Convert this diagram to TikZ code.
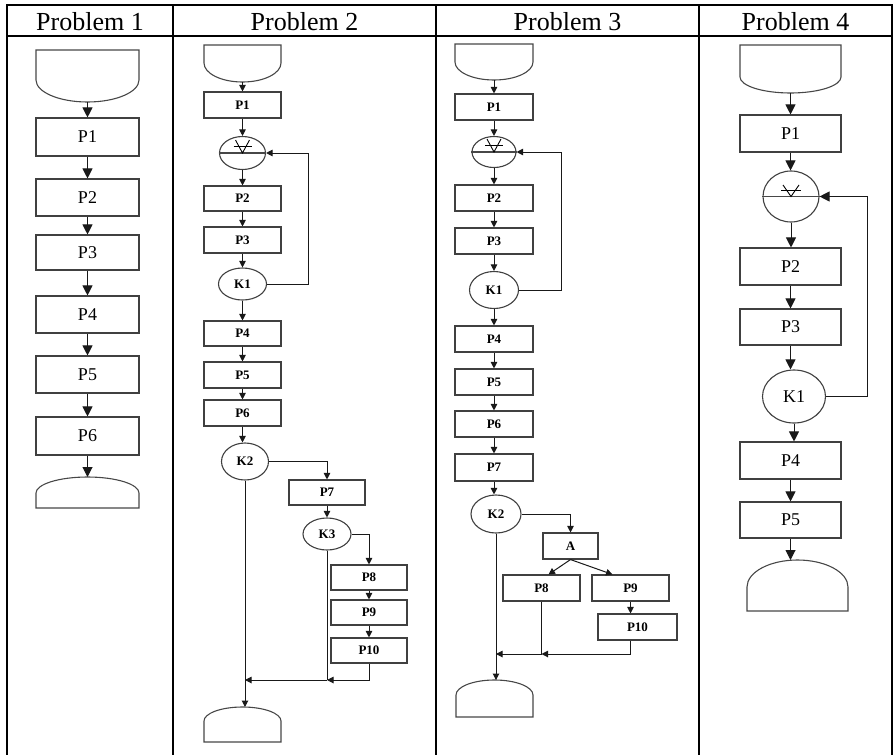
\documentclass[tikz,border=0pt]{standalone}
\usepackage{fontspec}
\setmainfont{Liberation Serif}
\usetikzlibrary{arrows.meta,shapes.geometric,calc}

\tikzset{
 tbl/.style={line width=2.2pt, black},
 shp/.style={line width=1.1pt, draw=black!72},
 box/.style={draw=black!75, line width=1.1pt, inner sep=0pt, rectangle},
 ell/.style={draw=black!75, line width=1.1pt, inner sep=0pt, ellipse},
 lbl/.style={font=\fontsize{18}{20}\selectfont},
 slbl/.style={font=\fontsize{13}{15}\selectfont\bfseries},
 hdr/.style={font=\fontsize{26}{30}\selectfont, anchor=base, inner sep=0pt},
 conn/.style={line width=1pt, black!90},
 arrB/.style={conn, -{Triangle[length=10pt,width=10pt]}},
 arrS/.style={conn, -{Triangle[length=6.5pt,width=6.5pt]}},
}

% name, x1, x2, y1, y2, style, text
\newcommand\mybox[7]{\node[box,#6,minimum width={(#3-#2)*1pt},minimum height={(#5-#4)*1pt}] (#1) at ({(#2+#3)/2},{(#4+#5)/2}) {#7};}
% name, cx, cy, w, h, style, text
\newcommand\myell[7]{\node[ell,#6,minimum width={#4*1pt},minimum height={#5*1pt}] (#1) at (#2,#3) {#7};}
% name, x1, x2, top, ys, bottom
\newcommand\termtop[6]{%
 \node[inner sep=0pt,outer sep=0pt,minimum width={(#3-#2)*1pt},minimum height={(#6-#4)*1pt}] (#1) at ({(#2+#3)/2},{(#4+#6)/2}) {};
 \draw[shp] (#2,#4) -- (#2,#5) .. controls (#2,{#5+0.55*(#6-#5)}) and ({#2+0.448*(#3-#2)/2},#6) .. ({(#2+#3)/2},#6) .. controls ({#3-0.448*(#3-#2)/2},#6) and (#3,{#5+0.55*(#6-#5)}) .. (#3,#5) -- (#3,#4) -- cycle;}
\newcommand\termbot[6]{%
 \node[inner sep=0pt,outer sep=0pt,minimum width={(#3-#2)*1pt},minimum height={(#6-#4)*1pt}] (#1) at ({(#2+#3)/2},{(#4+#6)/2}) {};
 \draw[shp] (#2,#6) -- (#2,#5) .. controls (#2,{#5-0.55*(#5-#4)}) and ({#2+0.448*(#3-#2)/2},#4) .. ({(#2+#3)/2},#4) .. controls ({#3-0.448*(#3-#2)/2},#4) and (#3,{#5-0.55*(#5-#4)}) .. (#3,#5) -- (#3,#6) -- cycle;}
% node, half width, height, crossbar half width
\newcommand\famark[4]{%
 \draw[shp] (#1.west) -- (#1.east);
 \draw[line width=0.9pt] ($(#1.center)+(-#2,-#3)$) -- (#1.center) -- ($(#1.center)+(#2,-#3)$);
 \draw[line width=0.9pt] ($(#1.center)+(-#4,{-#3/2})$) -- ($(#1.center)+(#4,{-#3/2})$);}

\begin{document}
\begin{tikzpicture}[x=1pt,y=-1pt]
\useasboundingbox (0,0) rectangle (894,755);

% table
\draw[tbl] (7,5) -- (892,5);
\draw[tbl] (7,36) -- (892,36);
\foreach \xx in {7,173,436,699,892} \draw[tbl] (\xx,4) -- (\xx,755);
\node[hdr] (h1) at (90,30) {Problem 1};
\node[hdr] (h2) at (304.5,30) {Problem 2};
\node[hdr] (h3) at (567.5,30) {Problem 3};
\node[hdr] (h4) at (795.5,30) {Problem 4};

% ---------- Problem 1 ----------
\termtop{a0}{36}{139}{50}{80}{102}
\mybox{a1}{36}{139}{118}{156}{lbl}{P1}
\mybox{a2}{36}{139}{179}{216}{lbl}{P2}
\mybox{a3}{36}{139}{235}{270}{lbl}{P3}
\mybox{a4}{36}{139}{296}{333}{lbl}{P4}
\mybox{a5}{36}{139}{356}{393}{lbl}{P5}
\mybox{a6}{36}{139}{417}{455}{lbl}{P6}
\termbot{a7}{36}{139}{477}{493}{508}
\foreach \u/\v in {a0/a1,a1/a2,a2/a3,a3/a4,a4/a5,a5/a6,a6/a7}
  \draw[arrB] (\u.south) -- (\v.north);

% ---------- Problem 2 ----------
\termtop{b0}{204}{281}{45}{63}{82}
\mybox{b1}{204}{281}{92}{118}{slbl}{P1}
\myell{bf}{242.5}{153}{46}{33}{}{}
\famark{bf}{7}{13}{9}
\mybox{b2}{204}{281}{186}{211}{slbl}{P2}
\mybox{b3}{204}{281}{227}{253}{slbl}{P3}
\myell{bk1}{242.5}{284}{48}{32}{slbl}{K1}
\mybox{b4}{204}{281}{321}{346}{slbl}{P4}
\mybox{b5}{204}{281}{362}{388}{slbl}{P5}
\mybox{b6}{204}{281}{400}{426}{slbl}{P6}
\myell{bk2}{245}{461.5}{47}{37}{slbl}{K2}
\mybox{b7}{289}{365}{480}{505}{slbl}{P7}
\myell{bk3}{327}{534}{48}{32}{slbl}{K3}
\mybox{b8}{331}{407}{565}{590}{slbl}{P8}
\mybox{b9}{331}{407}{600}{625}{slbl}{P9}
\mybox{b10}{331}{407}{638}{663}{slbl}{P10}
\termbot{be}{204}{281}{707}{721}{742}

\foreach \u/\v in {b0/b1,b1/bf,bf/b2,b2/b3,b3/bk1,bk1/b4,b4/b5,b5/b6,b7/bk3,b8/b9,b9/b10}
  \draw[arrS] (\u.south) -- (\v.north);
\draw[arrS] (b6.south) -- (b6.south |- bk2.north);
\draw[arrS] (bk1.east) -- ++(41,0) |- (bf.east);
\draw[arrS] (bk2.east) -| (b7.north);
\draw[arrS] (bk3.east) -| (b8.north);
\coordinate (by) at (0,680);
\coordinate (bj2) at (bk3.south |- by);
\coordinate (bj1) at (bk2.south |- by);
\draw[conn] (bk3.south) -- (bj2);
\draw[arrS] (b10.south) |- (bj2);
\draw[arrS] (bj2) -- (bj1);
\draw[arrS] (bk2.south) -- (bk2.south |- be.north);

% ---------- Problem 3 ----------
\termtop{c0}{455}{533}{44}{62}{80}
\mybox{c1}{455}{533}{94}{120}{slbl}{P1}
\myell{cf}{494}{152}{44}{31}{}{}
\famark{cf}{7}{13}{9}
\mybox{c2}{455}{533}{185}{211}{slbl}{P2}
\mybox{c3}{455}{533}{228}{254}{slbl}{P3}
\myell{ck1}{494}{290}{49}{37}{slbl}{K1}
\mybox{c4}{455}{533}{326}{352}{slbl}{P4}
\mybox{c5}{455}{533}{369}{395}{slbl}{P5}
\mybox{c6}{455}{533}{411}{437}{slbl}{P6}
\mybox{c7}{455}{533}{454}{481}{slbl}{P7}
\myell{ck2}{496}{514}{50}{38}{slbl}{K2}
\mybox{ca}{543}{598}{533}{559}{slbl}{A}
\mybox{c8}{503}{580}{575}{601}{slbl}{P8}
\mybox{c9}{592}{669}{575}{601}{slbl}{P9}
\mybox{c10}{598}{677}{614}{640}{slbl}{P10}
\termbot{ce}{456}{533}{680}{695}{717}

\foreach \u/\v in {c0/c1,c1/cf,cf/c2,c2/c3,c3/ck1,ck1/c4,c4/c5,c5/c6,c6/c7}
  \draw[arrS] (\u.south) -- (\v.north);
\draw[arrS] (c7.south) -- (c7.south |- ck2.north);
\draw[arrS] (ck1.east) -- ++(42,0) |- (cf.east);
\draw[arrS] (ck2.east) -| (ca.north);
\draw[arrS] (ca.south) -- ([xshift=7pt]c8.north);
\draw[arrS] (ca.south) -- ([xshift=-18pt]c9.north);
\draw[arrS] (c9.south) -- (c9.south |- c10.north);
\coordinate (cy) at (0,654);
\coordinate (cj2) at (c8.south |- cy);
\coordinate (cj1) at (ck2.south |- cy);
\draw[conn] (c8.south) -- (cj2);
\draw[arrS] (c9.south |- c10.south) |- (cj2);
\draw[arrS] (cj2) -- (cj1);
\draw[arrS] (ck2.south) -- (ck2.south |- ce.north);

% ---------- Problem 4 ----------
\termtop{d0}{740}{841}{45}{77}{93}
\mybox{d1}{740}{841}{115}{152}{lbl}{P1}
\myell{df}{791}{196.5}{56}{51}{}{}
\famark{df}{8}{11.5}{10}
\mybox{d2}{740}{841}{248}{285}{lbl}{P2}
\mybox{d3}{740}{841}{309}{345}{lbl}{P3}
\myell{dk1}{794}{396.5}{63}{53}{lbl}{K1}
\mybox{d4}{740}{841}{442}{479}{lbl}{P4}
\mybox{d5}{740}{841}{502}{538}{lbl}{P5}
\termbot{de}{747}{848}{560}{587}{611}

\draw[arrB] (d0.south) -- (d1.north);
\draw[arrB] (d1.south) -- (d1.south |- df.north);
\draw[arrB] (df.south) -- (df.south |- d2.north);
\draw[arrB] (d2.south) -- (d3.north);
\draw[arrB] (d3.south) -- (d3.south |- dk1.north);
\draw[arrB] (dk1.south) -- (dk1.south |- d4.north);
\draw[arrB] (d4.south) -- (d5.north);
\draw[arrB] (d5.south) -- (d5.south |- de.north);
\draw[arrB] (dk1.east) -- ++(41,0) |- (df.east);

\end{tikzpicture}
\end{document}
